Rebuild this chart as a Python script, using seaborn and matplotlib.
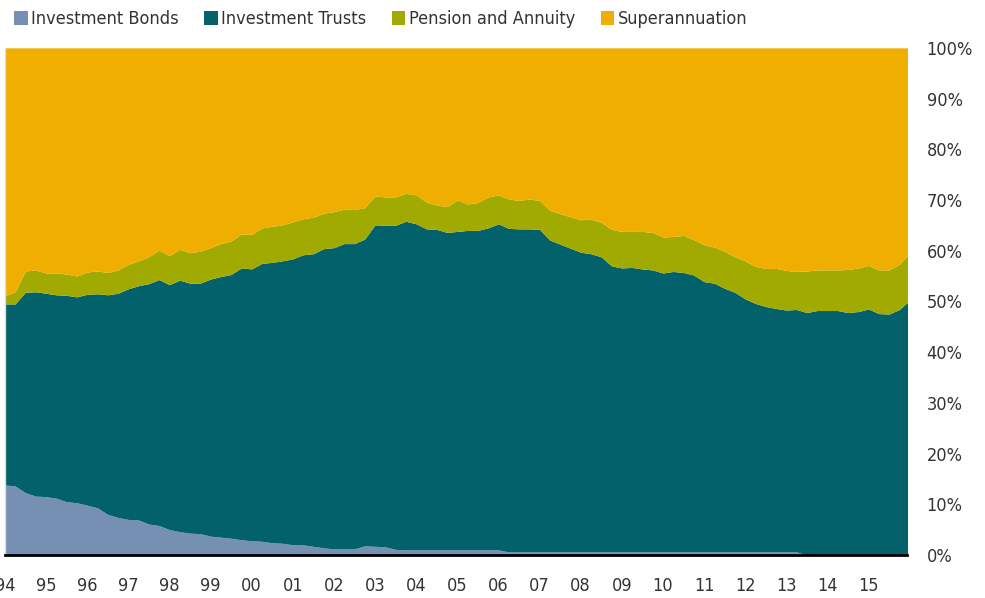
"""
Fatia de mercado por tipo de produto - área empilhada 100% (1994-2015)
"""

import matplotlib

matplotlib.use("Agg")
import matplotlib.dates as mdates
import matplotlib.pyplot as plt
import numpy as np
import pandas as pd
import seaborn as sns

# Dados trimestrais (% do total)
datas = pd.date_range("1994-01-01", periods=89, freq="QS")

investment_bonds = [
    13.8, 13.6, 12.3, 11.6, 11.5, 11.2, 10.5, 10.3, 9.8, 9.3,
    8.0, 7.4, 7.0, 6.9, 6.1, 5.8, 5.0, 4.6, 4.3, 4.2,
    3.7, 3.5, 3.3, 3.0, 2.8, 2.7, 2.4, 2.3, 2.0, 2.0,
    1.7, 1.4, 1.2, 1.2, 1.2, 1.8, 1.7, 1.6, 1.1, 1.0,
    1.0, 1.0, 1.0, 1.0, 1.0, 1.0, 1.0, 1.0, 1.0, 0.6,
    0.6, 0.6, 0.6, 0.6, 0.6, 0.6, 0.6, 0.6, 0.6, 0.6,
    0.6, 0.6, 0.6, 0.6, 0.6, 0.6, 0.6, 0.6, 0.6, 0.6,
    0.6, 0.6, 0.6, 0.6, 0.6, 0.6, 0.6, 0.6, 0.0, 0.0,
    0.0, 0.0, 0.0, 0.0, 0.0, 0.0, 0.0, 0.0, 0.0,
]
investment_trusts = [
    35.7, 35.9, 39.5, 40.3, 40.1, 40.1, 40.7, 40.6, 41.6, 42.2,
    43.3, 44.2, 45.5, 46.2, 47.4, 48.5, 48.3, 49.6, 49.3, 49.4,
    50.7, 51.4, 52.0, 53.6, 53.6, 54.8, 55.3, 55.7, 56.4, 57.2,
    57.7, 59.0, 59.4, 60.2, 60.2, 60.5, 63.4, 63.4, 63.9, 64.8,
    64.3, 63.3, 63.2, 62.6, 62.8, 63.0, 63.0, 63.5, 64.3, 63.8,
    63.7, 63.7, 63.6, 61.5, 60.7, 59.9, 59.1, 58.8, 58.2, 56.4,
    56.0, 56.1, 55.8, 55.6, 55.0, 55.3, 55.1, 54.6, 53.3, 53.0,
    52.0, 51.2, 49.9, 49.0, 48.4, 48.0, 47.7, 47.8, 47.8, 48.2,
    48.2, 48.2, 47.8, 48.0, 48.5, 47.6, 47.5, 48.4, 50.2,
]
pension_annuity = [
    1.6, 2.4, 4.2, 4.3, 4.0, 4.3, 4.2, 4.1, 4.4, 4.5,
    4.4, 4.6, 4.8, 4.9, 5.3, 5.8, 5.7, 6.1, 6.0, 6.3,
    6.2, 6.5, 6.6, 6.7, 6.8, 7.0, 7.1, 7.1, 7.3, 7.1,
    7.2, 7.0, 7.1, 6.8, 6.7, 6.2, 5.7, 5.6, 5.6, 5.5,
    5.7, 5.3, 4.8, 5.1, 6.2, 5.2, 5.5, 6.1, 5.7, 5.8,
    5.6, 5.9, 5.7, 5.9, 6.0, 6.2, 6.4, 6.8, 6.8, 7.2,
    7.2, 7.1, 7.4, 7.4, 7.1, 6.9, 7.3, 7.0, 7.3, 7.1,
    7.3, 7.0, 7.5, 7.3, 7.5, 7.9, 7.8, 7.5, 8.2, 8.0,
    8.0, 8.0, 8.5, 8.6, 8.6, 8.6, 8.7, 8.9, 9.3,
]
superannuation = [
    48.9, 48.1, 44.0, 43.8, 44.4, 44.4, 44.6, 45.0, 44.2, 44.0,
    44.3, 43.8, 42.7, 42.0, 41.2, 39.9, 41.0, 39.7, 40.4, 40.1,
    39.4, 38.6, 38.1, 36.7, 36.8, 35.5, 35.2, 34.9, 34.3, 33.7,
    33.4, 32.6, 32.3, 31.8, 31.9, 31.5, 29.2, 29.4, 29.4, 28.7,
    29.0, 30.4, 31.0, 31.3, 30.0, 30.8, 30.5, 29.4, 29.0, 29.8,
    30.1, 29.8, 30.1, 32.0, 32.7, 33.3, 33.9, 33.8, 34.4, 35.8,
    36.2, 36.2, 36.2, 36.4, 37.3, 37.2, 37.0, 37.8, 38.8, 39.3,
    40.1, 41.2, 42.0, 43.1, 43.5, 43.5, 43.9, 44.1, 44.0, 43.8,
    43.8, 43.8, 43.7, 43.4, 42.9, 43.8, 43.8, 42.7, 40.5,
]

series = ["Investment Bonds", "Investment Trusts", "Pension and Annuity", "Superannuation"]
cores = ["#7690B4", "#02616A", "#A1AA00", "#F0AE00"]

df = pd.DataFrame(
    {
        "data": datas,
        series[0]: investment_bonds,
        series[1]: investment_trusts,
        series[2]: pension_annuity,
        series[3]: superannuation,
    }
)

# Estilo
sns.set_theme(style="white")
plt.rcParams["font.family"] = ["DejaVu Sans"]
plt.rcParams["font.stretch"] = "condensed"
texto = "#333333"

fig = plt.figure(figsize=(9.85, 5.98), dpi=100)
ax = fig.add_axes([0.005, 0.072, 0.916, 0.848])

ax.stackplot(
    df["data"],
    [df[s] for s in series],
    labels=series,
    colors=cores,
    linewidth=0,
)

ax.set_xlim(pd.Timestamp("1994-01-01"), pd.Timestamp("2015-12-10"))
ax.set_ylim(0, 100)

# Eixo Y à direita
ax.yaxis.tick_right()
ax.set_yticks(np.arange(0, 101, 10))
ax.set_yticklabels([f"{v}%" for v in range(0, 101, 10)])
ax.tick_params(axis="y", length=0, pad=14, labelsize=13, labelcolor=texto)

# Eixo X com anos
anos = pd.date_range("1994-01-01", "2015-01-01", freq="YS")
ax.set_xticks(anos)
ax.xaxis.set_major_formatter(mdates.DateFormatter("%y"))
ax.tick_params(axis="x", length=0, pad=16, labelsize=13, labelcolor=texto)

for lado in ["top", "right"]:
    ax.spines[lado].set_visible(False)
ax.spines["left"].set_color("#dddddd")
ax.spines["left"].set_linewidth(1)
ax.spines["bottom"].set_color("black")
ax.spines["bottom"].set_linewidth(2)
ax.grid(False)

# Legenda no topo
leg = fig.legend(
    loc="upper left",
    bbox_to_anchor=(-0.002, 1.01),
    ncol=4,
    frameon=False,
    fontsize=13,
    handlelength=0.75,
    handleheight=0.75,
    handletextpad=0.2,
    columnspacing=1.4,
)
for t in leg.get_texts():
    t.set_color(texto)

fig.savefig("out.png", dpi=100)
plt.close(fig)
